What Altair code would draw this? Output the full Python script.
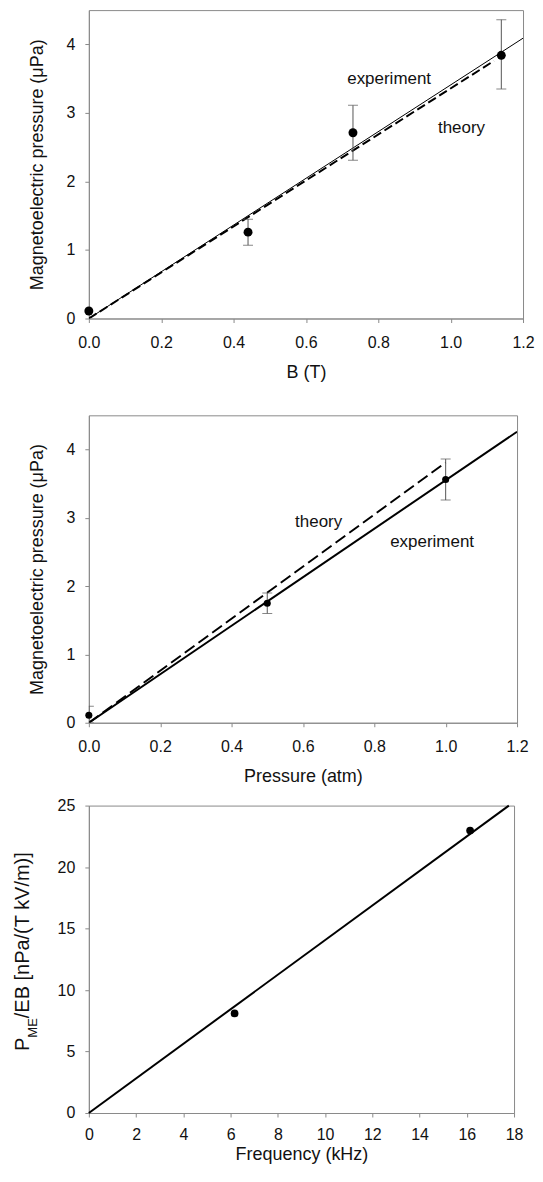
import altair as alt
import pandas as pd

FONT = "Liberation Sans"
INK = "#111111"
FRAME = "#8a8a8a"

# ---------------- Panel 1: pressure vs B ----------------
p1_x = [0.0, 0.44, 0.73, 1.14]
p1_y = [0.11, 1.26, 2.71, 3.84]
p1_err_x = [0.44, 0.73, 1.14]
p1_err_lo = [1.07, 2.31, 3.35]
p1_err_hi = [1.45, 3.11, 4.36]
p1_exp_x = [0.0, 1.2]
p1_exp_y = [0.0, 4.09]
p1_th_x = [0.0, 1.12]
p1_th_y = [0.0, 3.76]
p1_lab = ["experiment", "theory"]
p1_lab_x = [0.83, 1.03]
p1_lab_y = [3.49, 2.78]
p1_xticks = [0.0, 0.2, 0.4, 0.6, 0.8, 1.0, 1.2]
p1_yticks = [0, 1, 2, 3, 4]

# ---------------- Panel 2: pressure vs gas pressure ----------------
p2_x = [0.0, 0.5, 1.0]
p2_y = [0.11, 1.75, 3.56]
p2_err_x = [0.0, 0.5, 1.0]
p2_err_lo = [0.0, 1.60, 3.26]
p2_err_hi = [0.24, 1.90, 3.86]
p2_exp_x = [0.0, 1.2]
p2_exp_y = [0.0, 4.26]
p2_th_x = [0.0, 1.0]
p2_th_y = [0.0, 3.81]
p2_lab = ["theory", "experiment"]
p2_lab_x = [0.644, 0.962]
p2_lab_y = [2.94, 2.64]
p2_xticks = [0.0, 0.2, 0.4, 0.6, 0.8, 1.0, 1.2]
p2_yticks = [0, 1, 2, 3, 4]

# ---------------- Panel 3: P_ME/EB vs frequency ----------------
p3_x = [6.17, 16.14]
p3_y = [8.1, 22.97]
p3_fit_x = [0.0, 17.78]
p3_fit_y = [0.0, 25.0]
p3_xticks = [0, 2, 4, 6, 8, 10, 12, 14, 16, 18]
p3_yticks = [0, 5, 10, 15, 20, 25]
p3_title_parts = ["P", "ME", "/EB [nPa/(T kV/m)]"]


def axis_x(title, values, fmt, lp=12, tp=13):
    return alt.Axis(title=title, values=values, format=fmt, grid=False,
                    labelFontSize=16, titleFontSize=18, labelPadding=lp,
                    titlePadding=tp, tickSize=4, labelFlush=False)


def axis_y(title, values, fmt):
    return alt.Axis(title=title, values=values, format=fmt, grid=False,
                    labelFontSize=16, titleFontSize=18, labelPadding=10,
                    titlePadding=20, tickSize=4)


def panel(xs, ys, err_x, err_lo, err_hi, exp_x, exp_y, th_x, th_y,
          labs, lab_x, lab_y, xdom, ydom, xticks, yticks, xtitle, ytitle,
          xfmt, w, h, exp_width, dash, pt_size):
    X = alt.X("x:Q", scale=alt.Scale(domain=xdom, nice=False, zero=False),
              axis=axis_x(xtitle, xticks, xfmt))
    Y = alt.Y("y:Q", scale=alt.Scale(domain=ydom, nice=False, zero=False),
              axis=axis_y(ytitle, yticks, "d"))
    pts = pd.DataFrame({"x": xs, "y": ys})
    err = pd.DataFrame({"x": err_x, "y": err_lo, "y2": err_hi})
    cap_lo = pd.DataFrame({"x": err_x, "y": err_lo})
    cap_hi = pd.DataFrame({"x": err_x, "y": err_hi})
    exp = pd.DataFrame({"x": exp_x, "y": exp_y})
    th = pd.DataFrame({"x": th_x, "y": th_y})
    labdf = pd.DataFrame({"x": lab_x, "y": lab_y, "t": labs})

    l_exp = alt.Chart(exp).mark_line(color="black", strokeWidth=exp_width, clip=True).encode(x=X, y=Y)
    l_th = alt.Chart(th).mark_line(color="black", strokeWidth=2, strokeDash=dash, clip=True).encode(x=X, y=Y)
    bars = alt.Chart(err).mark_rule(color="#555555", strokeWidth=1, clip=True).encode(x=X, y=Y, y2="y2:Q")
    c1 = alt.Chart(cap_lo).mark_tick(color="#555555", thickness=1, size=10, orient="horizontal", clip=True).encode(x=X, y=Y)
    c2 = alt.Chart(cap_hi).mark_tick(color="#555555", thickness=1, size=10, orient="horizontal", clip=True).encode(x=X, y=Y)
    dots = alt.Chart(pts).mark_circle(color="black", opacity=1, size=pt_size).encode(x=X, y=Y)
    texts = alt.Chart(labdf).mark_text(font=FONT, fontSize=17, color=INK).encode(x=X, y=Y, text="t:N")
    return alt.layer(l_exp, l_th, bars, c1, c2, dots, texts).properties(width=w, height=h)


p1 = panel(p1_x, p1_y, p1_err_x, p1_err_lo, p1_err_hi, p1_exp_x, p1_exp_y,
           p1_th_x, p1_th_y, p1_lab, p1_lab_x, p1_lab_y, [0, 1.2], [0, 4.5],
           p1_xticks, p1_yticks, "B (T)", "Magnetoelectric pressure (μPa)",
           ".1f", 435, 309, 1, [9, 4], 80)

p2 = panel(p2_x, p2_y, p2_err_x, p2_err_lo, p2_err_hi, p2_exp_x, p2_exp_y,
           p2_th_x, p2_th_y, p2_lab, p2_lab_x, p2_lab_y, [0, 1.2], [0, 4.5],
           p2_xticks, p2_yticks, "Pressure (atm)", "Magnetoelectric pressure (μPa)",
           ".1f", 429, 308, 2, [12, 5], 50)

# Panel 3
X3 = alt.X("x:Q", scale=alt.Scale(domain=[0, 18], nice=False),
           axis=axis_x("Frequency (kHz)", p3_xticks, "d", lp=10, tp=3))
Y3 = alt.Y("y:Q", scale=alt.Scale(domain=[0, 25], nice=False),
           axis=alt.Axis(title=None, values=p3_yticks, format="d", grid=False,
                         labelFontSize=16, labelPadding=10, tickSize=4))
fit3 = alt.Chart(pd.DataFrame({"x": p3_fit_x, "y": p3_fit_y})).mark_line(
    color="black", strokeWidth=2).encode(x=X3, y=Y3)
dots3 = alt.Chart(pd.DataFrame({"x": p3_x, "y": p3_y})).mark_circle(
    color="black", opacity=1, size=60).encode(x=X3, y=Y3)

t_main = alt.Chart(pd.DataFrame({"t": [p3_title_parts[0]]})).mark_text(
    font=FONT, fontSize=20, color=INK, angle=270, align="left", baseline="alphabetic"
).encode(x=alt.value(-60), y=alt.value(246), text="t:N")
t_sub = alt.Chart(pd.DataFrame({"t": [p3_title_parts[1]]})).mark_text(
    font=FONT, fontSize=13, color=INK, angle=270, align="left", baseline="alphabetic"
).encode(x=alt.value(-52), y=alt.value(232.5), text="t:N")
t_rest = alt.Chart(pd.DataFrame({"t": [p3_title_parts[2]]})).mark_text(
    font=FONT, fontSize=20, color=INK, angle=270, align="left", baseline="alphabetic"
).encode(x=alt.value(-60), y=alt.value(213), text="t:N")

p3 = alt.layer(fit3, dots3, t_main, t_sub, t_rest).properties(width=426, height=308)

inner = alt.vconcat(p2, p3, spacing=10)
chart = alt.vconcat(p1, inner, spacing=32).properties(
    padding={"left": 4, "top": 0, "right": 0, "bottom": 0}
).configure_view(
    stroke=FRAME, strokeWidth=1
).configure_axis(
    labelFont=FONT, titleFont=FONT, labelColor=INK, titleColor=INK,
    titleFontWeight="normal", domainColor=FRAME, tickColor=FRAME
).configure_text(font=FONT)

chart.save("out.html", embed_options={"renderer": "svg", "actions": False})
